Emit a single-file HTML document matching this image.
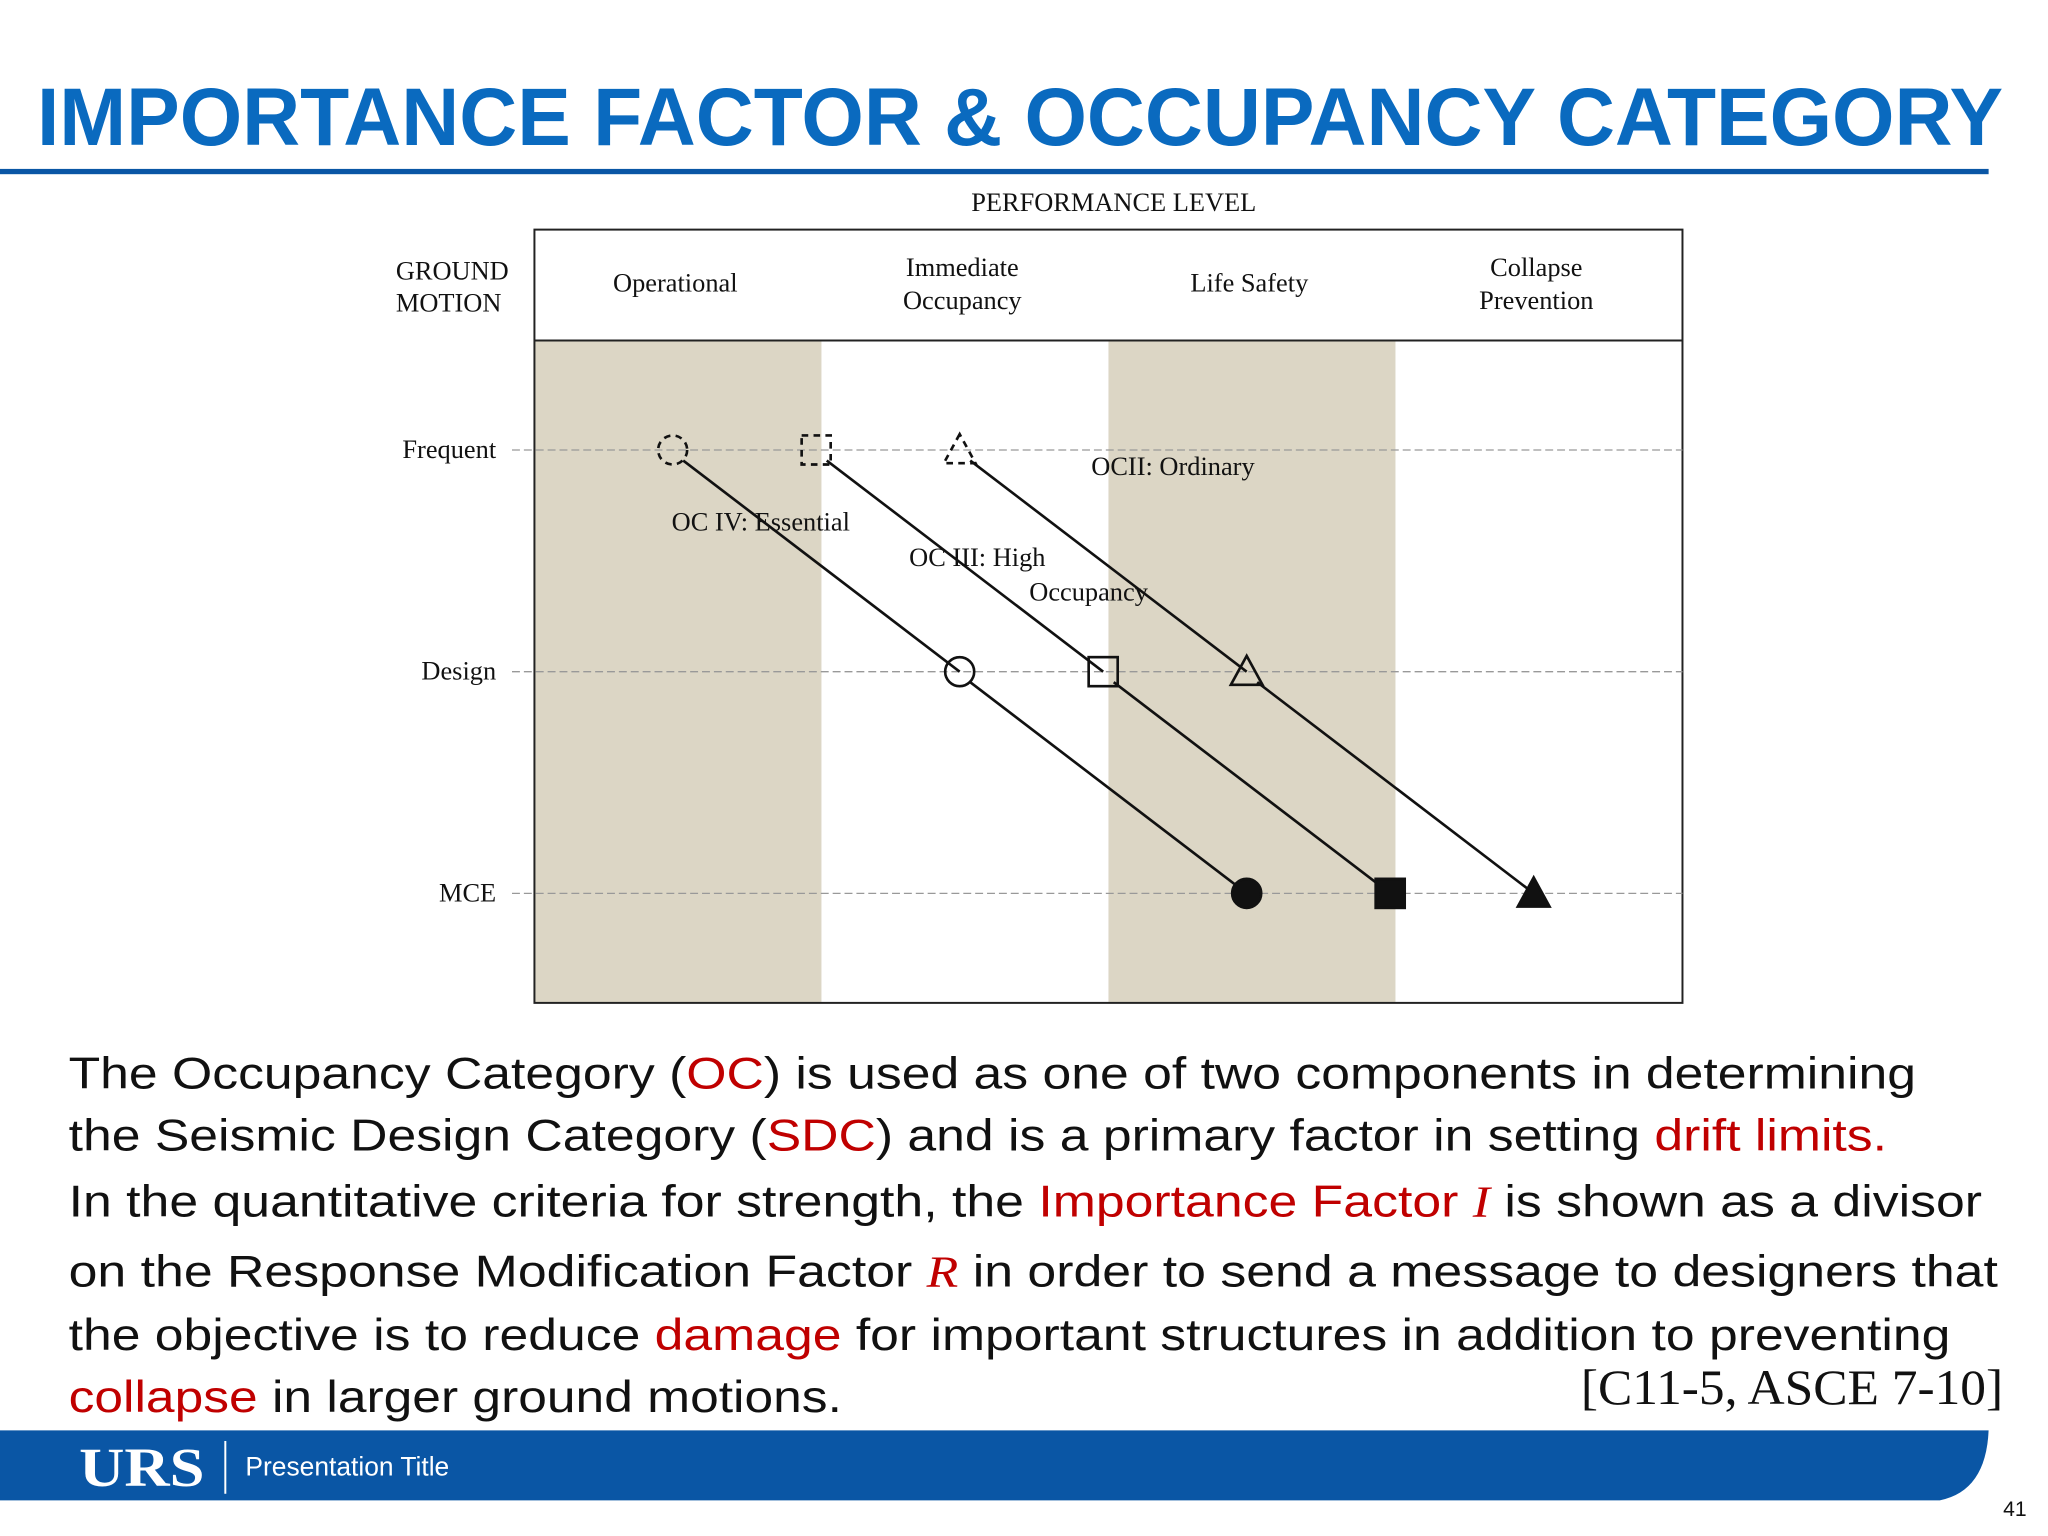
<!DOCTYPE html>
<html><head><meta charset="utf-8"><style>
html,body{margin:0;padding:0;background:#fff;}
svg{display:block;}
</style></head><body>
<svg id="slide" width="2048" height="1536" viewBox="0 0 1552 1164" xmlns="http://www.w3.org/2000/svg">
<text x="28" y="110" font-family="Liberation Sans, sans-serif" font-weight="bold" font-size="62" fill="#0a6abf" textLength="1490" lengthAdjust="spacingAndGlyphs">IMPORTANCE FACTOR &amp; OCCUPANCY CATEGORY</text>
<rect x="0" y="128" width="1507" height="4" fill="#0a56a5"/>
<g id="chart" font-family="Liberation Serif, serif" fill="#111"></g>
<g font-family="Liberation Sans, sans-serif" font-size="34" fill="#111">
<text x="52" y="825" textLength="1400" lengthAdjust="spacingAndGlyphs">The Occupancy Category (<tspan fill="#c00000">OC</tspan>) is used as one of two components in determining</text>
<text x="52" y="872" textLength="1378" lengthAdjust="spacingAndGlyphs">the Seismic Design Category (<tspan fill="#c00000">SDC</tspan>) and is a primary factor in setting <tspan fill="#c00000">drift limits.</tspan></text>
<text x="52" y="922" textLength="1450" lengthAdjust="spacingAndGlyphs">In the quantitative criteria for strength, the <tspan fill="#c00000">Importance Factor <tspan font-family="Liberation Serif, serif" font-style="italic">I</tspan></tspan> is shown as a divisor</text>
<text x="52" y="975" textLength="1462" lengthAdjust="spacingAndGlyphs">on the Response Modification Factor <tspan fill="#c00000" font-family="Liberation Serif, serif" font-style="italic">R</tspan> in order to send a message to designers that</text>
<text x="52" y="1023" textLength="1426" lengthAdjust="spacingAndGlyphs">the objective is to reduce <tspan fill="#c00000">damage</tspan> for important structures in addition to preventing</text>
<text x="52" y="1070" textLength="586" lengthAdjust="spacingAndGlyphs"><tspan fill="#c00000">collapse</tspan> in larger ground motions.</text>
</g>
<text x="1198" y="1064" font-family="Liberation Serif, serif" font-size="38" fill="#111" textLength="320" lengthAdjust="spacingAndGlyphs">[C11-5, ASCE 7-10]</text>
<path d="M0 1084 H1507 Q1505 1130 1470 1137 H0 Z" fill="#0a56a5"/>
<text x="60" y="1126" font-family="Liberation Serif, serif" font-weight="bold" font-size="42" fill="#fff" textLength="95" lengthAdjust="spacingAndGlyphs">URS</text>
<rect x="170" y="1092" width="1.5" height="40" fill="#fff"/>
<text x="186" y="1118" font-family="Liberation Sans, sans-serif" font-size="20" fill="#fff">Presentation Title</text>
<text x="1518" y="1149" font-family="Liberation Sans, sans-serif" font-size="16" fill="#111">41</text>
</svg>
<script>
const levels = ["Operational", "Immediate Occupancy", "Life Safety", "Collapse Prevention"];
const motions = ["Frequent", "Design", "MCE"];
const ocIV = [0, 1, 2];
const ocIII = [0.5, 1.5, 2.5];
const ocII = [1, 2, 3];
const NS = "http://www.w3.org/2000/svg";
const g = document.getElementById("chart");
const L = 405, R = 1275, T = 174, H = 258, B = 760;
const colW = (R - L) / 4;
const xS = i => L + colW * (i + 0.5) - 4;
const yS = j => 341 + j * 168;
function mk(tag, attrs, parent) { const e = document.createElementNS(NS, tag); for (const k in attrs) e.setAttribute(k, attrs[k]); (parent || g).appendChild(e); return e; }
// shaded columns
[0, 2].forEach(i => {
  const r = mk("rect", { x: L + colW * i, y: H, width: colW, height: B - H, fill: "#dcd6c5" });
  
  
});
const box = mk("rect", { x: L, y: T, width: R - L, height: B - T, fill: "none", stroke: "#222", "stroke-width": 1.5 });


mk("line", { x1: L, x2: R, y1: H, y2: H, stroke: "#222", "stroke-width": 1.5 });
let t = mk("text", { x: 844, y: 160, "font-size": 20, "text-anchor": "middle" }); t.textContent = "PERFORMANCE LEVEL";


t = mk("text", { x: 300, y: 212, "font-size": 20 }); t.textContent = "GROUND";


t = mk("text", { x: 300, y: 236, "font-size": 20 }); t.textContent = "MOTION";


levels.forEach((lv, i) => {
  const words = lv.split(" ");
  const x = L + colW * (i + 0.5) - 2;
  if (words.length === 1 || lv === "Life Safety") {
    const e = mk("text", { x: x, y: 221, "font-size": 20, "text-anchor": "middle" }); e.textContent = lv;
    
    
  } else {
    words.forEach((w, k) => {
      const e = mk("text", { x: x, y: 209 + k * 25, "font-size": 20, "text-anchor": "middle" }); e.textContent = w;
      
      
    });
  }
});
motions.forEach((m, j) => {
  const y = yS(j);
  const ln = mk("line", { x1: 388, x2: R, y1: y, y2: y, stroke: "#999", "stroke-width": 1, "stroke-dasharray": "6 3" });
  
  
  const e = mk("text", { x: 376, y: y + 6, "font-size": 20, "text-anchor": "end" }); e.textContent = m;
  
  
});
function marker(shape, x, y, j) {
  const dash = j === 0 ? "5 4" : "none";
  const fill = j === 2 ? "#111" : "none";
  const st = { stroke: "#111", "stroke-width": 2, "stroke-dasharray": dash, fill: fill };
  let e;
  if (shape === "circle") e = mk("circle", Object.assign({ cx: x, cy: y, r: 11 }, st));
  else if (shape === "square") e = mk("rect", Object.assign({ x: x - 11, y: y - 11, width: 22, height: 22 }, st));
  else e = mk("polygon", Object.assign({ points: `${x},${y - 12} ${x - 12},${y + 10} ${x + 12},${y + 10}` }, st));
  
  
}
[[ocIV, "circle", "oc-iv"], [ocIII, "square", "oc-iii"], [ocII, "triangle", "oc-ii"]].forEach(([s, shape, nm]) => {
  const pts = s.map((v, j) => [xS(v), yS(j)]);
  for (let j = 0; j < pts.length - 1; j++) {
    const l = mk("line", { x1: pts[j][0] + 8, y1: pts[j][1] + 8, x2: pts[j + 1][0], y2: pts[j + 1][1], stroke: "#111", "stroke-width": 2 });
    
    
  }
  pts.forEach((p, j) => marker(shape, p[0], p[1], j));
});
[["OC IV: Essential", 509, 402, "oc-iv-label"], ["OC III: High", 689, 429, "oc-iii-label"], ["Occupancy", 780, 455, "oc-iii-label-2"], ["OCII:  Ordinary", 827, 360, "oc-ii-label"]].forEach(a => {
  const e = mk("text", { x: a[1], y: a[2], "font-size": 20, "xml:space": "preserve" }); e.textContent = a[0];
  
  
});
</script>
</body></html>
